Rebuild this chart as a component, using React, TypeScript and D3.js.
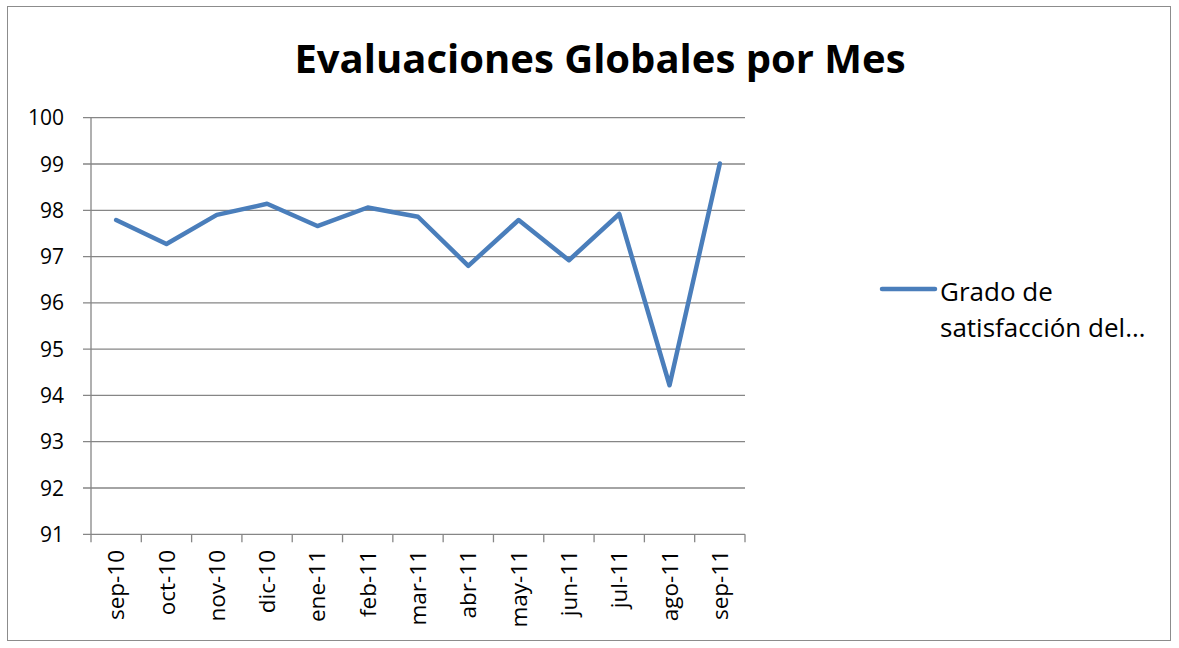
import React, { useRef, useEffect } from 'react';
import * as d3 from 'd3';

const months = ['sep-10', 'oct-10', 'nov-10', 'dic-10', 'ene-11', 'feb-11', 'mar-11', 'abr-11', 'may-11', 'jun-11', 'jul-11', 'ago-11', 'sep-11'];
const satisfaccion = [97.79, 97.27, 97.9, 98.14, 97.66, 98.06, 97.86, 96.8, 97.79, 96.92, 97.92, 94.22, 99.01];
const yTicks = [91, 92, 93, 94, 95, 96, 97, 98, 99, 100];
const seriesName = ['Grado de', 'satisfacción del…'];

const App = () => {
  const ref = useRef<SVGSVGElement>(null);

  useEffect(() => {
    const width = 1179;
    const height = 648;
    const left = 91;
    const right = 745;
    const top = 117.7;
    const bottom = 534.3;
    const font = '"Open Sans", sans-serif';
    const gridColor = '#868686';
    const lineColor = '#4a7ebb';

    const svg = d3.select(ref.current);
    svg.selectAll('*').remove();
    svg.attr('width', width).attr('height', height);

    svg.append('rect')
      .attr('x', 7.5).attr('y', 6.5)
      .attr('width', 1163).attr('height', 634)
      .attr('fill', 'white')
      .attr('stroke', '#8c8c8c');

    svg.append('text')
      .attr('x', 600).attr('y', 73)
      .attr('text-anchor', 'middle')
      .style('font-family', font)
      .style('font-weight', 'bold')
      .style('font-size', '40px')
      .text('Evaluaciones Globales por Mes');

    const x = d3.scaleBand().domain(months).range([left, right]);
    const y = d3.scaleLinear().domain([91, 100]).range([bottom, top]);

    // grid lines + y ticks
    svg.append('g')
      .selectAll('line')
      .data(yTicks)
      .join('line')
      .attr('x1', left - 8).attr('x2', right)
      .attr('y1', d => y(d)).attr('y2', d => y(d))
      .attr('stroke', gridColor)
      .attr('stroke-width', 1.3);

    svg.append('g')
      .selectAll('text')
      .data(yTicks)
      .join('text')
      .attr('x', 64).attr('y', d => y(d))
      .attr('dy', '0.36em')
      .attr('text-anchor', 'end')
      .style('font-family', font)
      .style('font-size', '21px')
      .text(d => d);

    // y axis line
    svg.append('line')
      .attr('x1', left).attr('x2', left)
      .attr('y1', top).attr('y2', bottom)
      .attr('stroke', gridColor).attr('stroke-width', 1.3);

    // x ticks
    const xTickPos = months.map(m => x(m) as number).concat([right]);
    svg.append('g')
      .selectAll('line')
      .data(xTickPos)
      .join('line')
      .attr('x1', d => d).attr('x2', d => d)
      .attr('y1', bottom).attr('y2', bottom + 8)
      .attr('stroke', gridColor).attr('stroke-width', 1.3);

    svg.append('g')
      .selectAll('text')
      .data(months)
      .join('text')
      .attr('transform', d => `translate(${(x(d) as number) + x.bandwidth() / 2}, 550) rotate(-90)`)
      .attr('dy', '0.36em')
      .attr('text-anchor', 'end')
      .style('font-family', font)
      .style('font-size', '22.5px')
      .text(d => d);

    const line = d3.line<number>()
      .x((_, i) => (x(months[i]) as number) + x.bandwidth() / 2)
      .y(d => y(d));

    svg.append('path')
      .datum(satisfaccion)
      .attr('d', line)
      .attr('fill', 'none')
      .attr('stroke', lineColor)
      .attr('stroke-width', 4.5)
      .attr('stroke-linejoin', 'round')
      .attr('stroke-linecap', 'round');

    // legend
    svg.append('line')
      .attr('x1', 882).attr('x2', 935)
      .attr('y1', 289).attr('y2', 289)
      .attr('stroke', lineColor)
      .attr('stroke-width', 4.5)
      .attr('stroke-linecap', 'round');

    svg.append('g')
      .selectAll('text')
      .data(seriesName)
      .join('text')
      .attr('x', 940)
      .attr('y', (_, i) => 301 + i * 36)
      .style('font-family', font)
      .style('font-size', '26px')
      .text(d => d);
  }, []);

  return (
    <svg ref={ref} style={{ position: 'absolute', left: 0, top: 0 }}></svg>
  );
};

export default App;
